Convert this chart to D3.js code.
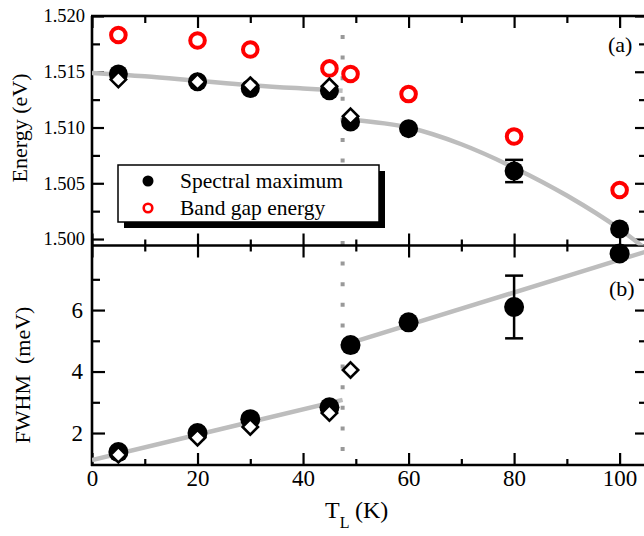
<!DOCTYPE html>
<html>
<head>
<meta charset="utf-8">
<script src="https://cdn.jsdelivr.net/npm/d3@7"></script>
<style>
  body { margin: 0; background: #fff; }
  svg { display: block; }
  svg text { font-family: "Liberation Serif", "Times New Roman", serif; }
</style>
</head>
<body>
<svg id="chart" width="644" height="536"></svg>
<script>
// temperatures (K) of the measured points
const temps = [5, 20, 30, 45, 49, 60, 80, 100]
// (a) energy, eV
const specMax = [1.5148, 1.5141, 1.5135, 1.5133, 1.5105, 1.5099, 1.5061, 1.5009]
const specMaxErr = [0, 0, 0, 0, 0, 0, 0.001, 0]
const bandGap = [1.5183, 1.5178, 1.5170, 1.5153, 1.5148, 1.5130, 1.5092, 1.5044]
const diamondT = [5, 20, 30, 45, 49]
const diamondE = [1.5143, 1.5141, 1.5138, 1.5137, 1.5110]
// (b) FWHM, meV
const fwhm = [1.38, 2.0, 2.45, 2.84, 4.86, 5.6, 6.1, 7.84]
const fwhmErr = [0, 0, 0, 0, 0, 0, 1.02, 0]
const diamondF = [1.29, 1.85, 2.2, 2.65, 4.05]
// grey guide curves
const fitEaT = [0, 10, 20, 30, 40, 47.5]
const fitEa = [1.5149, 1.5146, 1.5142, 1.5138, 1.5135, 1.5133]
const fitEbT = [49, 60, 70, 80, 90, 100, 105]
const fitEb = [1.5107, 1.5100, 1.5085, 1.5064, 1.5039, 1.5009, 1.4991]
const fitFaT = [0, 47.5]
const fitFa = [1.12, 3.08]
const fitFbT = [49, 105]
const fitFb = [4.93, 7.9]
const transitionT = 47.5
// ticks
const xMajor = [0, 20, 40, 60, 80, 100]
const xMinor = [10, 30, 50, 70, 90]
const eMajor = [1.500, 1.505, 1.510, 1.515, 1.520]
const eMinor = [1.5025, 1.5075, 1.5125, 1.5175]
const fMajor = [2, 4, 6]
const fMinor = [3, 5, 7]

const svg = d3.select('#chart')
const x = d3.scaleLinear().domain([0, 105]).range([92, 646])
const yE = d3.scaleLinear().domain([1.49942, 1.520]).range([245.5, 16])
const yF = d3.scaleLinear().domain([0.96, 8.1]).range([465, 245.5])

const defs = svg.append('defs')
defs.append('clipPath').attr('id', 'clipA').append('rect')
  .attr('x', 92).attr('y', 16).attr('width', 554).attr('height', 229.5)
defs.append('clipPath').attr('id', 'clipB').append('rect')
  .attr('x', 92).attr('y', 245.5).attr('width', 554).attr('height', 219.5)

// dotted transition line
svg.append('line')
  .attr('x1', x(transitionT)).attr('x2', x(transitionT))
  .attr('y1', 35).attr('y2', 465)
  .attr('stroke', '#999').attr('stroke-width', 4)
  .attr('stroke-dasharray', '4 16.6')

// axes helper
const axis = (gen, transform, size, fmt, fontSize, pad) => {
  const g = svg.append('g').attr('transform', transform)
    .call(gen.tickSize(size).tickPadding(pad || 3).tickFormat(fmt || ''))
  g.attr('font-family', null).attr('font-size', null)
  g.select('.domain').remove()
  g.selectAll('line').attr('stroke', '#000').attr('stroke-width', 2.2)
  g.selectAll('text')
    .style('font-family', '"Liberation Serif", "Times New Roman", serif')
    .style('font-size', (fontSize || 10) + 'px').attr('fill', '#000')
  return g
}

// top panel left
axis(d3.axisLeft(yE).tickValues(eMajor), 'translate(92,0)', -12, d3.format('.3f'), 18.5, 7)
axis(d3.axisLeft(yE).tickValues(eMinor), 'translate(92,0)', -8)
// bottom panel left
axis(d3.axisLeft(yF).tickValues(fMajor), 'translate(92,0)', -13, d3.format('d'), 23, 9)
axis(d3.axisLeft(yF).tickValues(fMinor), 'translate(92,0)', -8)
// right
axis(d3.axisRight(yE).tickValues(eMajor), 'translate(646,0)', -11)
axis(d3.axisRight(yE).tickValues(eMinor), 'translate(646,0)', -7)
axis(d3.axisRight(yF).tickValues(fMajor), 'translate(646,0)', -11)
axis(d3.axisRight(yF).tickValues(fMinor), 'translate(646,0)', -7)
// top
axis(d3.axisTop(x).tickValues(xMajor), 'translate(0,16)', -12)
axis(d3.axisTop(x).tickValues(xMinor), 'translate(0,16)', -7)
// middle (crossing ticks)
axis(d3.axisTop(x).tickValues(xMajor), 'translate(0,245.5)', 12)
axis(d3.axisBottom(x).tickValues(xMajor), 'translate(0,245.5)', 12)
axis(d3.axisTop(x).tickValues(xMinor), 'translate(0,245.5)', 6)
axis(d3.axisBottom(x).tickValues(xMinor), 'translate(0,245.5)', 6)
// bottom
axis(d3.axisBottom(x).tickValues(xMajor), 'translate(0,465)', -12, d3.format('d'), 23, 5)
axis(d3.axisBottom(x).tickValues(xMinor), 'translate(0,465)', -6)

// frame
const frame = svg.append('g').attr('stroke', '#000').attr('stroke-width', 2.6).attr('fill', 'none')
frame.append('line').attr('x1', 92).attr('x2', 92).attr('y1', 16).attr('y2', 466)
frame.append('line').attr('x1', 646).attr('x2', 646).attr('y1', 16).attr('y2', 466)
frame.append('line').attr('x1', 91).attr('x2', 647).attr('y1', 16).attr('y2', 16)
frame.append('line').attr('x1', 91).attr('x2', 647).attr('y1', 245.5).attr('y2', 245.5)
frame.append('line').attr('x1', 91).attr('x2', 647).attr('y1', 465).attr('y2', 465)

// fit curves
const curve = (ts, vs, y, clip) => {
  const line = d3.line().x(d => x(d[0])).y(d => y(d[1])).curve(d3.curveMonotoneX)
  svg.append('path').datum(ts.map((t, i) => [t, vs[i]]))
    .attr('d', line).attr('fill', 'none')
    .attr('stroke', '#bdbdbd').attr('stroke-width', 4.5)
    .attr('clip-path', 'url(#' + clip + ')')
}
curve(fitEaT, fitEa, yE, 'clipA')
curve(fitEbT, fitEb, yE, 'clipA')
curve(fitFaT, fitFa, yF, 'clipB')
curve(fitFbT, fitFb, yF, 'clipB')

// markers
const errBars = (vals, errs, y) => {
  temps.forEach((t, i) => {
    if (!errs[i]) return
    const g = svg.append('g').attr('stroke', '#000').attr('stroke-width', 2.5)
    g.append('line').attr('x1', x(t)).attr('x2', x(t)).attr('y1', y(vals[i] - errs[i])).attr('y2', y(vals[i] + errs[i]))
    g.append('line').attr('x1', x(t) - 9).attr('x2', x(t) + 9).attr('y1', y(vals[i] - errs[i])).attr('y2', y(vals[i] - errs[i]))
    g.append('line').attr('x1', x(t) - 9).attr('x2', x(t) + 9).attr('y1', y(vals[i] + errs[i])).attr('y2', y(vals[i] + errs[i]))
  })
}
errBars(specMax, specMaxErr, yE)
errBars(fwhm, fwhmErr, yF)

svg.append('g').selectAll('circle').data(temps).join('circle')
  .attr('cx', d => x(d)).attr('cy', (d, i) => yE(specMax[i])).attr('r', 9.5).attr('fill', '#000')
svg.append('g').selectAll('circle').data(temps).join('circle')
  .attr('cx', d => x(d)).attr('cy', (d, i) => yE(bandGap[i])).attr('r', 7.3)
  .attr('fill', 'none').attr('stroke', '#f00').attr('stroke-width', 4)
svg.append('g').selectAll('circle').data(temps).join('circle')
  .attr('cx', d => x(d)).attr('cy', (d, i) => yF(fwhm[i])).attr('r', 10).attr('fill', '#000')

const diamond = d3.symbol().type(d3.symbolDiamond2).size(150)
const diamonds = (vals, y) => svg.append('g').selectAll('path').data(diamondT).join('path')
  .attr('d', diamond)
  .attr('transform', (d, i) => 'translate(' + x(d) + ',' + y(vals[i]) + ')')
  .attr('fill', '#fff').attr('stroke', '#000').attr('stroke-width', 2.6)
diamonds(diamondE, yE)
diamonds(diamondF, yF)

// legend
const lg = svg.append('g')
lg.append('rect').attr('x', 124).attr('y', 171).attr('width', 261).attr('height', 57).attr('fill', '#000')
lg.append('rect').attr('x', 118).attr('y', 165).attr('width', 261).attr('height', 57)
  .attr('fill', '#fff').attr('stroke', '#000').attr('stroke-width', 1.5)
lg.append('circle').attr('cx', 148).attr('cy', 181).attr('r', 5.5).attr('fill', '#000')
lg.append('circle').attr('cx', 148).attr('cy', 208).attr('r', 4.3)
  .attr('fill', 'none').attr('stroke', '#f00').attr('stroke-width', 2.6)
lg.append('text').attr('x', 180).attr('y', 188).style('font-size', '21.5px').text('Spectral maximum')
lg.append('text').attr('x', 180).attr('y', 215).style('font-size', '21.5px').text('Band gap energy')

// labels
svg.append('text').attr('transform', 'translate(27,128) rotate(-90)')
  .attr('text-anchor', 'middle').style('font-size', '22px').text('Energy (eV)')
svg.append('text').attr('transform', 'translate(30,375) rotate(-90)')
  .attr('text-anchor', 'middle').style('font-size', '22px').style('white-space', 'pre').text('FWHM  (meV)')
svg.append('text').attr('x', 608).attr('y', 52).style('font-size', '22px').text('(a)')
svg.append('text').attr('x', 609).attr('y', 296).style('font-size', '22px').text('(b)')

const xt = svg.append('text').attr('x', 325).attr('y', 518).style('font-size', '24px')
xt.append('tspan').text('T')
xt.append('tspan').attr('dy', 10).style('font-size', '16px').text('L')
xt.append('tspan').attr('x', 355).attr('dy', -10).text('(K)')
</script>
</body>
</html>
